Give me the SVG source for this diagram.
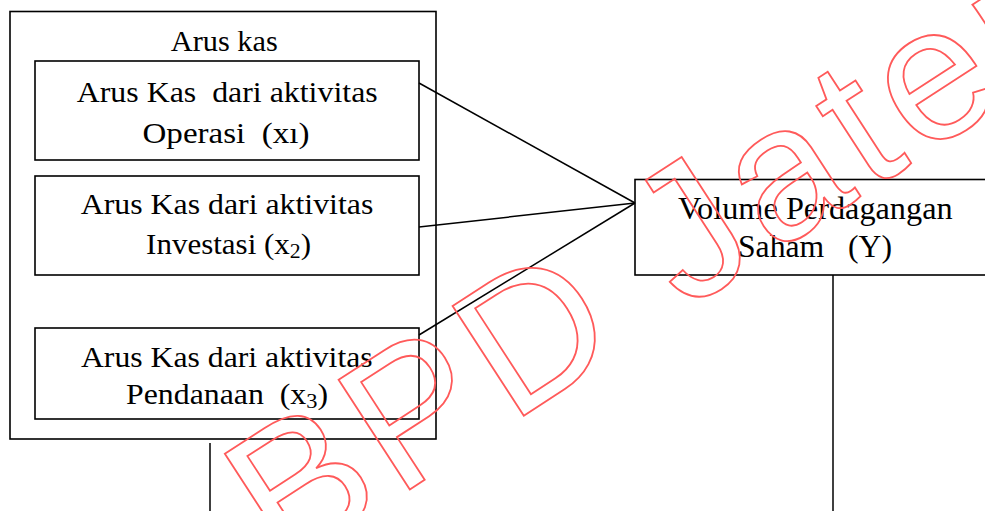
<svg xmlns="http://www.w3.org/2000/svg" width="985" height="511" viewBox="0 0 985 511">
<style>
.box{fill:none;stroke:#000;stroke-width:1.6}
.ln{stroke:#000;stroke-width:1.5;fill:none}
.t{font-family:"Liberation Serif","Times New Roman",serif;font-size:28.5px;fill:#000;text-anchor:middle;white-space:pre}
.tr{font-family:"Liberation Serif","Times New Roman",serif;font-size:32px;fill:#000;text-anchor:middle;white-space:pre}
.sub{font-size:20px}
.wm{font-family:"Liberation Sans",Arial,sans-serif;font-size:190px;letter-spacing:9px;fill:none;stroke:#ff5a5a;stroke-width:1.8;white-space:pre}
</style>
<rect width="985" height="511" fill="#fff"/>
<g id="arus-kas">
<rect class="box" x="10" y="11.5" width="426" height="427.5"/>
<text class="t" x="224.3" y="51" textLength="107" lengthAdjust="spacingAndGlyphs">Arus kas</text>
</g>
<g id="x1">
<rect class="box" x="35" y="61" width="384" height="99"/>
<text class="t" x="227.2" y="101.5" textLength="301" lengthAdjust="spacingAndGlyphs">Arus Kas  dari aktivitas</text>
<text class="t" x="226" y="142.7" textLength="167" lengthAdjust="spacingAndGlyphs">Operasi  (xı)</text>
</g>
<g id="x2">
<rect class="box" x="35" y="176" width="384" height="99"/>
<text class="t" x="227" y="214.3" textLength="292.6" lengthAdjust="spacingAndGlyphs">Arus Kas dari aktivitas</text>
<text class="t" x="228.6" y="254" textLength="165" lengthAdjust="spacingAndGlyphs">Investasi (x<tspan class="sub" dy="4">2</tspan><tspan dy="-4">)</tspan></text>
</g>
<g id="x3">
<rect class="box" x="35" y="328" width="384" height="91"/>
<text class="t" x="226.8" y="367.3" textLength="291.7" lengthAdjust="spacingAndGlyphs">Arus Kas dari aktivitas</text>
<text class="t" x="227" y="404" textLength="202" lengthAdjust="spacingAndGlyphs">Pendanaan  (x<tspan class="sub" dy="4">3</tspan><tspan dy="-4">)</tspan></text>
</g>
<g id="y">
<rect class="box" x="635" y="179.5" width="362" height="95.5"/>
<text class="tr" x="815.3" y="219.3" textLength="274.7" lengthAdjust="spacingAndGlyphs">Volume Perdagangan</text>
<text class="tr" x="815" y="256.7" textLength="154" lengthAdjust="spacingAndGlyphs">Saham   (Y)</text>
</g>
<g id="connectors">
<line class="ln" x1="419" y1="83" x2="635" y2="203"/>
<line class="ln" x1="419" y1="227" x2="635" y2="203"/>
<line class="ln" x1="419" y1="335" x2="635" y2="203"/>
<line class="ln" x1="210" y1="443" x2="210" y2="511"/>
<line class="ln" x1="833" y1="275" x2="833" y2="511"/>
</g>
<g id="watermark">
<text class="wm" transform="translate(283,572) rotate(-33)">BPD Jateng</text>
</g>
</svg>
